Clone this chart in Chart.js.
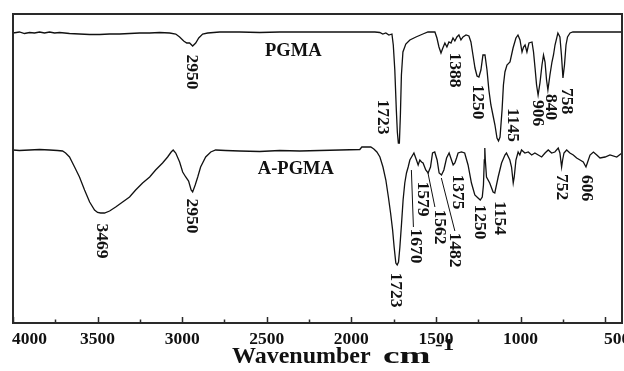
<!DOCTYPE html>
<html>
<head>
<meta charset="utf-8">
<script src="https://cdn.jsdelivr.net/npm/chart.js@4.4.0/dist/chart.umd.min.js"></script>
<style>
  html, body { margin: 0; padding: 0; background: #fff; }
</style>
</head>
<body>
<canvas id="ftir" width="624" height="371"></canvas>
<script>
// FTIR spectra: PGMA (top) and A-PGMA (bottom), transmittance in arbitrary units

const pgmaWavenumber = [4000, 3962, 3932, 3902, 3873, 3843, 3814, 3784, 3754, 3725, 3695, 3666, 3607, 3547, 3488, 3429, 3370, 3311, 3251, 3192, 3133, 3074, 3038, 3015, 2991, 2973, 2956, 2938, 2920, 2902, 2879, 2849, 2778, 2660, 2542, 2423, 2305, 2187, 2068, 1950, 1861, 1832, 1814, 1796, 1778, 1760, 1752, 1743, 1734, 1728, 1722, 1716, 1710, 1704, 1695, 1678, 1654, 1618, 1577, 1547, 1506, 1494, 1482, 1470, 1459, 1447, 1435, 1423, 1411, 1399, 1388, 1376, 1364, 1352, 1340, 1322, 1305, 1293, 1281, 1269, 1257, 1246, 1234, 1222, 1210, 1198, 1187, 1175, 1163, 1151, 1139, 1130, 1121, 1109, 1101, 1092, 1080, 1062, 1044, 1027, 1015, 1003, 991, 982, 973, 962, 950, 932, 923, 914, 905, 896, 885, 873, 864, 855, 846, 838, 826, 814, 805, 796, 779, 767, 758, 749, 740, 731, 722, 707, 690, 666, 530, 400];
const pgmaSignal = [290, 291, 289.5, 290.5, 290, 291, 290, 291, 290, 290.5, 290, 289.5, 289, 288.5, 288.5, 289, 289, 289.5, 290, 290, 290.5, 290, 289, 286, 282, 280, 280, 277, 280, 285, 289, 290, 291, 291, 290.5, 291, 291, 291, 291, 291, 291, 290.5, 289, 290, 288, 289, 278, 253, 213, 191, 180, 180, 208, 248, 271, 279, 283, 286, 289, 291, 291, 285, 276, 270, 275, 280, 276, 281, 280, 285, 282, 286, 288, 283, 286, 288, 287, 281, 268, 255, 247, 246, 253, 268, 268, 253, 233, 218, 208, 198, 185, 182, 186, 213, 238, 251, 258, 261, 275, 285, 288, 283, 271, 276, 278, 271, 280, 281, 271, 255, 238, 228, 240, 258, 268, 261, 243, 233, 248, 261, 268, 278, 290, 286, 268, 245, 258, 278, 286, 290, 291, 291, 291, 291];

const apgmaWavenumber = [4000, 3962, 3902, 3843, 3784, 3737, 3707, 3689, 3666, 3636, 3607, 3577, 3547, 3518, 3500, 3482, 3459, 3429, 3393, 3352, 3311, 3275, 3234, 3192, 3157, 3116, 3086, 3065, 3053, 3038, 3015, 2997, 2979, 2962, 2947, 2938, 2923, 2908, 2891, 2861, 2831, 2802, 2743, 2660, 2542, 2423, 2305, 2187, 2068, 1950, 1938, 1885, 1867, 1849, 1831, 1813, 1796, 1781, 1768, 1756, 1747, 1737, 1729, 1721, 1713, 1703, 1694, 1684, 1674, 1664, 1654, 1644, 1630, 1615, 1605, 1595, 1585, 1576, 1560, 1546, 1532, 1520, 1507, 1493, 1481, 1467, 1453, 1437, 1422, 1408, 1398, 1388, 1378, 1369, 1349, 1330, 1310, 1290, 1270, 1251, 1238, 1226, 1219, 1214, 1211, 1208, 1201, 1182, 1162, 1152, 1132, 1112, 1092, 1083, 1063, 1053, 1043, 1037, 1027, 1014, 1004, 994, 974, 954, 934, 915, 895, 875, 855, 836, 816, 797, 777, 767, 757, 751, 743, 727, 708, 688, 668, 648, 629, 613, 605, 589, 569, 549, 530, 500, 471, 431, 400];
const apgmaSignal = [173, 172.5, 173, 173.5, 173, 172.5, 172, 170, 166, 156, 146, 133, 121, 113, 110.5, 110, 110, 112, 116, 121, 126, 133, 140, 146, 153, 160, 166, 171, 173, 170, 161, 151, 146, 142, 133, 131, 138, 146, 156, 166, 171, 173, 172.5, 172, 171.5, 172.5, 172, 172.5, 173, 173.5, 176, 176, 174, 171, 166, 156, 143, 126, 110, 93, 76, 60, 58, 61, 76, 100, 123, 140, 150, 156, 163, 166, 170, 163, 158, 163, 161, 160, 153, 150, 156, 170, 171, 163, 150, 148, 153, 165, 170, 163, 158, 160, 165, 170, 171, 170, 158, 140, 128, 125, 123, 126, 138, 163, 175, 163, 146, 140, 131, 130, 146, 160, 168, 170, 163, 156, 140, 146, 163, 171, 168, 173, 170, 171, 168, 170, 168, 166, 170, 173, 170, 171, 175, 170, 156, 163, 170, 173, 170, 168, 165, 163, 161, 156, 160, 168, 171, 168, 165, 166, 168, 166, 170];

const xMajorTicks = [4000, 3500, 3000, 2500, 2000, 1500, 1000, 500];
const xMinorTicks = [3750, 3250, 2750, 2250, 1750, 1250, 750];

// sample names and peak labels: [text, wavenumber, signal]
const sampleNames = [['PGMA', 2343, 271.5], ['A-PGMA', 2328, 153.5]];
const peakLabels = [
  ['2950', 2944, 251], ['1723', 1814, 206], ['1388', 1388, 253], ['1250', 1252, 221],
  ['1145', 1050, 198], ['906', 897, 210], ['840', 820, 216], ['758', 728, 222],
  ['3469', 3476, 82], ['2950', 2947, 107], ['1723', 1737, 33], ['1670', 1618, 77],
  ['1579', 1577, 124], ['1562', 1476, 96], ['1482', 1391, 73], ['1375', 1370, 131],
  ['1250', 1240, 101], ['1154', 1127, 105], ['752', 756, 136], ['606', 608, 135]
];
// leader lines: [w1, s1, w2, s2]
const leaderLines = [[1645, 153, 1633, 96], [1547, 150, 1506, 116], [1468, 145, 1388, 92]];

const SERIF = '"Liberation Serif", "Times New Roman", serif';
const INK = '#111';

function toPoints(xs, ys) {
  return xs.map((x, i) => ({ x, y: ys[i] }));
}

const decor = {
  id: 'decor',
  afterDraw(chart) {
    const { ctx, chartArea: a, scales: { x, y } } = chart;
    ctx.save();

    // frame
    ctx.strokeStyle = '#2a2a2a';
    ctx.lineWidth = 2;
    ctx.strokeRect(a.left, a.top, a.right - a.left, a.bottom - a.top);

    // inward ticks on bottom axis
    ctx.lineWidth = 1.5;
    ctx.beginPath();
    xMajorTicks.forEach(v => {
      const px = Math.round(x.getPixelForValue(v)) + 0.5;
      ctx.moveTo(px, a.bottom); ctx.lineTo(px, a.bottom - 6);
    });
    xMinorTicks.forEach(v => {
      const px = Math.round(x.getPixelForValue(v)) + 0.5;
      ctx.moveTo(px, a.bottom); ctx.lineTo(px, a.bottom - 3.5);
    });
    ctx.stroke();

    // tick labels
    ctx.fillStyle = INK;
    ctx.font = 'bold 17.5px ' + SERIF;
    ctx.textBaseline = 'middle';
    xMajorTicks.forEach((v, i) => {
      const px = x.getPixelForValue(v);
      if (i === 0) { ctx.textAlign = 'left'; ctx.fillText(String(v), px - 1, a.bottom + 16); }
      else if (i === xMajorTicks.length - 1) { ctx.textAlign = 'left'; ctx.fillText(String(v), px - 1, a.bottom + 16); }
      else { ctx.textAlign = 'center'; ctx.fillText(String(v), px, a.bottom + 16); }
    });

    // axis title
    ctx.textAlign = 'left';
    ctx.textBaseline = 'alphabetic';
    ctx.font = 'bold 24px ' + SERIF;
    ctx.fillText('Wavenumber', 232, 363);
    ctx.save();
    ctx.translate(383, 363);
    ctx.scale(1.55, 1);
    ctx.fillText('cm', 0, 0);
    ctx.restore();
    ctx.save();
    ctx.translate(435, 350);
    ctx.scale(1.35, 1);
    ctx.font = 'bold 17px ' + SERIF;
    ctx.fillText('-1', 0, 0);
    ctx.restore();

    // sample names
    ctx.font = 'bold 18.5px ' + SERIF;
    ctx.textAlign = 'center';
    ctx.textBaseline = 'middle';
    sampleNames.forEach(([t, w, s]) => ctx.fillText(t, x.getPixelForValue(w), y.getPixelForValue(s)));

    // leader lines
    ctx.strokeStyle = INK;
    ctx.lineWidth = 1;
    ctx.beginPath();
    leaderLines.forEach(([w1, s1, w2, s2]) => {
      ctx.moveTo(x.getPixelForValue(w1), y.getPixelForValue(s1));
      ctx.lineTo(x.getPixelForValue(w2), y.getPixelForValue(s2));
    });
    ctx.stroke();

    // rotated peak labels
    ctx.font = 'bold 17.5px ' + SERIF;
    peakLabels.forEach(([t, w, s]) => {
      ctx.save();
      ctx.translate(x.getPixelForValue(w), y.getPixelForValue(s));
      ctx.rotate(Math.PI / 2);
      ctx.fillText(t, 0, 0);
      ctx.restore();
    });

    ctx.restore();
  }
};

new Chart(document.getElementById('ftir'), {
  type: 'line',
  data: {
    datasets: [
      { label: 'PGMA', data: toPoints(pgmaWavenumber, pgmaSignal) },
      { label: 'A-PGMA', data: toPoints(apgmaWavenumber, apgmaSignal) }
    ]
  },
  options: {
    responsive: false,
    animation: false,
    parsing: false,
    layout: { padding: { left: 13, top: 14, right: 2, bottom: 48 } },
    elements: {
      line: { borderColor: INK, borderWidth: 1.3, tension: 0, fill: false },
      point: { radius: 0, hoverRadius: 0 }
    },
    scales: {
      x: { type: 'linear', min: 400, max: 4000, reverse: true, display: false },
      y: { type: 'linear', min: 0, max: 309, display: false }
    },
    plugins: { legend: { display: false }, tooltip: { enabled: false } }
  },
  plugins: [decor]
});
</script>
</body>
</html>
